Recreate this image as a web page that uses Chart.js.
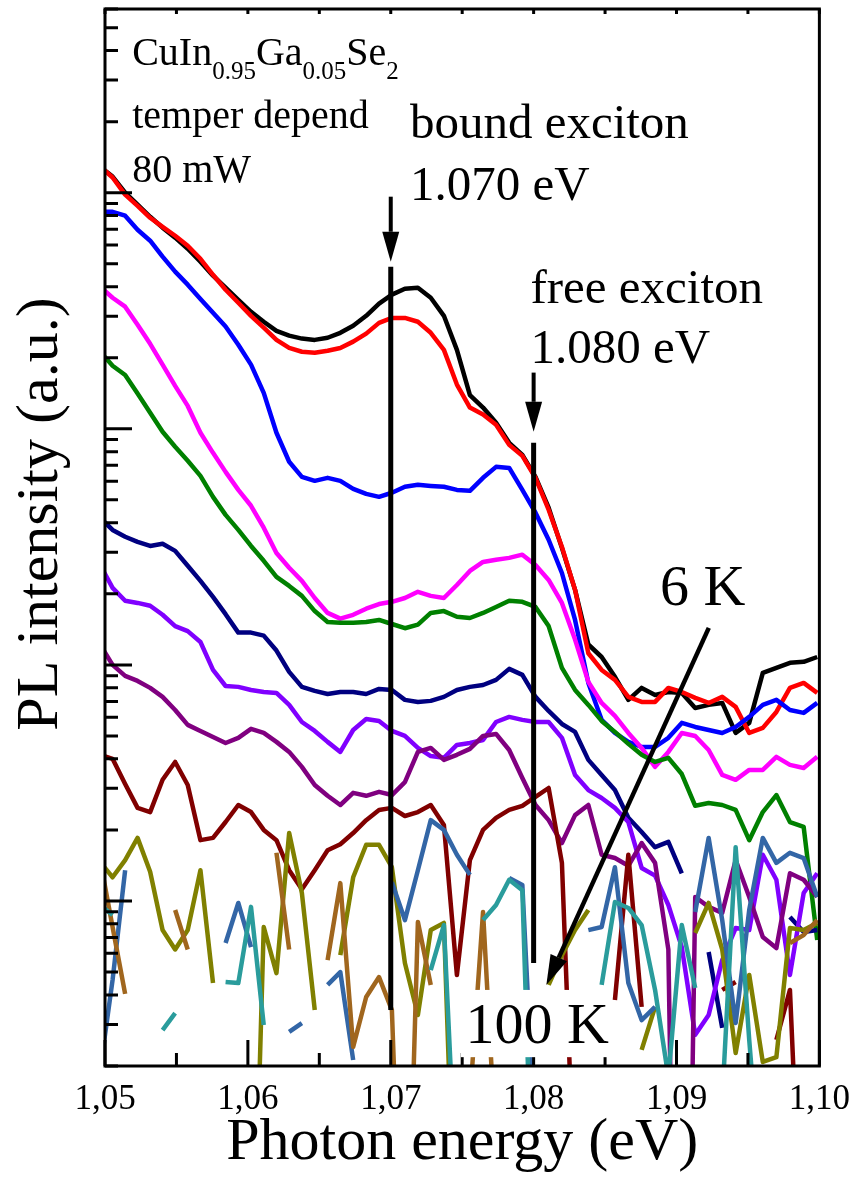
<!DOCTYPE html>
<html>
<head>
<meta charset="utf-8">
<title>PL temperature dependence</title>
<script src="https://cdn.jsdelivr.net/npm/chart.js@4.4.1/dist/chart.umd.min.js"></script>
<style>
  html, body { margin: 0; padding: 0; background: #fff; }
  #wrap { width: 863px; height: 1180px; }
</style>
</head>
<body>
<div id="wrap"><canvas id="plChart"></canvas></div>
<script>
// Photon energy grid (eV), one point per spectrometer step
const energy = [
  1.04966, 1.05053, 1.05141, 1.05228, 1.05316, 1.05403, 1.05491, 1.05579, 1.05668, 1.05756,
  1.05844, 1.05933, 1.06022, 1.06111, 1.06200, 1.06289, 1.06378, 1.06468, 1.06558, 1.06647,
  1.06737, 1.06828, 1.06918, 1.07008, 1.07099, 1.07190, 1.07280, 1.07372, 1.07463, 1.07554,
  1.07646, 1.07737, 1.07829, 1.07921, 1.08013, 1.08105, 1.08198, 1.08290, 1.08383, 1.08476,
  1.08569, 1.08663, 1.08756, 1.08850, 1.08943, 1.09037, 1.09131, 1.09225, 1.09320, 1.09414,
  1.09509, 1.09604, 1.09699, 1.09794, 1.09890, 1.09985
];

// PL spectra, from 6 K (black) up to 100 K (teal); null = no positive signal
const curveBlack = [
  1290, 1170, 1000, 890, 791, 711, 645, 579, 510, 445,
  396, 352, 313, 284, 260, 248, 241, 238, 243, 255,
  273, 301, 339, 370, 392, 396, 359, 301, 216, 139,
  123, 106, 87.2, 77.6, 62.6, 46.3, 31.3, 20.8, 12.2, 10.8,
  8.90, 7.11, 7.99, 7.46, 7.68, 7.61, 6.57, 6.77, 6.90, 5.15,
  5.68, 9.25, 9.71, 10.2, 10.3, 10.8
];
const curveRed = [
  1290, 1160, 981, 880, 783, 717, 657, 596, 525, 449,
  388, 342, 301, 268, 238, 220, 212, 210, 214, 220,
  234, 253, 281, 295, 295, 284, 255, 216, 154, 123,
  115, 104, 85.5, 76.8, 62.0, 45.4, 31.6, 20.8, 11.2, 9.52,
  8.64, 7.32, 6.97, 6.97, 7.99, 7.68, 7.25, 6.90, 7.32, 6.64,
  5.15, 5.41, 6.32, 7.99, 8.39, 7.61
];
const curveBlue = [
  830, 830, 799, 697, 626, 536, 463, 408, 355, 310,
  271, 227, 187, 142, 96.2, 72.5, 62.6, 60.2, 62.0, 60.2,
  55.7, 53.0, 51.5, 53.6, 56.8, 57.9, 57.3, 56.8, 55.1, 54.6,
  62.0, 69.0, 68.3, 55.1, 44.1, 33.9, 24.5, 15.5, 8.39, 5.85,
  5.15, 4.72, 4.49, 4.49, 4.91, 5.68, 5.46, 5.30, 5.15, 5.46,
  6.02, 6.77, 7.11, 6.44, 6.26, 6.90
];
const curveMagenta = [
  400, 359, 329, 276, 229, 187, 152, 125, 96.2, 79.1,
  65.7, 55.1, 47.2, 38.1, 29.8, 25.8, 22.7, 19.2, 16.6, 15.7,
  16.3, 17.3, 18.1, 18.5, 19.2, 20.4, 19.6, 19.2, 21.8, 25.0,
  27.3, 27.9, 28.4, 29.3, 26.5, 22.9, 18.3, 12.8, 8.47, 6.90,
  6.08, 5.15, 4.45, 3.70, 4.28, 5.15, 5.00, 4.36, 3.42, 3.26,
  3.59, 3.59, 4.08, 3.77, 3.66, 4.08
];
const curveGreen = [
  212, 185, 169, 141, 117, 97.1, 83.9, 73.2, 63.2, 51.5,
  43.2, 37.3, 31.9, 27.6, 23.6, 21.6, 19.6, 16.9, 15.2, 15.1,
  15.1, 15.2, 15.5, 14.9, 14.3, 14.8, 16.6, 16.9, 16.0, 15.8,
  16.6, 17.6, 18.7, 18.5, 17.6, 14.6, 9.71, 7.83, 6.77, 5.79,
  5.20, 4.63, 4.16, 3.88, 4.04, 3.45, 2.53, 2.60, 2.55, 2.43,
  1.81, 2.38, 2.81, 2.16, 2.06, 0.683
];
const curveNavy = [
  42.0, 37.3, 34.9, 33.2, 31.9, 32.6, 30.4, 26.3, 22.7, 19.4,
  16.4, 13.7, 13.7, 13.3, 11.5, 9.34, 8.07, 7.76, 7.53, 7.68,
  7.68, 7.53, 7.91, 7.83, 7.11, 6.97, 7.04, 7.32, 7.83, 8.07,
  8.22, 8.64, 9.62, 9.07, 7.32, 6.38, 5.62, 5.20, 3.96, 3.42,
  2.95, 2.25, 1.96, 1.69, 1.78, 1.31, null, 0.608, 0.290, null,
  null, null, null, 0.855, 0.739, 0.753
];
const curveViolet = [
  26.5, 21.2, 18.7, 18.3, 17.8, 16.3, 14.6, 13.9, 12.5, 9.52,
  8.14, 8.07, 7.83, 7.68, 7.61, 6.77, 5.73, 5.25, 4.72, 4.28,
  5.30, 5.90, 5.79, 5.25, 5.00, 4.45, 4.11, 4.04, 4.58, 4.67,
  4.81, 5.73, 6.02, 5.85, 5.73, 5.73, 4.91, 3.42, 2.95, 2.73,
  2.48, 2.16, 1.38, 1.28, 0.962, 0.638, 0.271, 0.329, 0.562, 0.768,
  0.753, 1.57, 1.23, 0.486, 1.08, 1.31
];
const curvePurple = [
  12.2, 10.0, 8.98, 8.55, 7.99, 7.32, 6.44, 5.57, 5.25, 4.95,
  4.67, 4.91, 5.36, 5.15, 4.72, 4.28, 3.70, 3.10, 2.79, 2.55,
  2.87, 2.79, 2.90, 2.81, 3.19, 4.28, 4.45, 3.96, 4.16, 4.41,
  5.00, 5.10, 4.36, 3.32, 2.55, 2.20, 1.76, 2.31, 2.55, 1.57,
  1.52, 1.41, 1.76, 1.45, 0.623, 0.0002, 1.04, 0.944, 0.890, 1.49,
  1.04, 0.704, 0.632, 1.31, 1.23, 1.04
];
const curveMaroon = [
  4.16, 4.00, 3.13, 2.48, 2.38, 3.26, 3.88, 3.10, 1.81, 1.85,
  2.16, 2.55, 2.38, 2.00, 1.81, 1.35, 1.12, 1.35, 1.64, 1.74,
  1.94, 2.20, 2.43, 2.48, 2.29, 2.38, 2.55, 2.10, 0.486, 1.49,
  2.00, 2.25, 2.43, 2.53, 2.76, 3.01, 1.45, 0.05, null, null,
  0.381, 1.57, 0.356, null, null, null, null, null, 0.420, 0.454,
  null, null, 0.258, 0.420, 0.02, null
];
const curveOlive = [
  1.46, 1.26, 1.49, 1.85, 1.33, 0.753, 0.623, 0.753, 1.35, 0.449,
  null, null, 0.01, 0.776, 0.495, 1.94, 1.08, 0.345, null, 0.590,
  1.26, 1.73, 1.73, 1.39, 0.546, 0.329, 0.753, 0.807, 0.02, null,
  null, null, null, null, null, 0.441, 0.590, 0.753, 0.916, null,
  null, null, 0.234, 0.356, null, null, 0.732, 0.981, 0.623, 0.227,
  0.486, 0.208, 0.218, 0.768, 0.753, 0.807
];
const curveSteel = [
  0.192, 0.463, 1.35, null, null, null, null, null, null, null,
  0.664, 0.981, 0.638, null, null, 0.279, 0.304, null, 0.441, 0.500,
  0.212, null, null, 1.20, 0.830, 1.35, 2.20, 2.00, 1.57, 1.29,
  null, null, 1.25, 1.17, 0.088, null, null, null, 0.753, 0.776,
  1.39, 0.449, 0.313, 0.356, null, null, 0.898, 1.85, 0.830, 0.304,
  0.916, 1.85, 1.45, 1.60, 1.52, 1.04
];
const curveOchre = [
  1.49, 0.776, 0.404, null, null, null, 0.916, 0.623, null, null,
  null, null, null, null, 1.60, 0.623, null, null, 0.562, 1.19,
  0.241, 0.392, 0.476, 0.345, 0.01, 0.815, 0.441, null, null, 0.144,
  0.898, 0.088, null, null, null, null, null, null, null, null,
  null, null, null, null, null, null, null, null, null, null,
  null, null, null, 0.664, 0.717, 0.830
];
const curveTeal = [
  0.962, 0.872, null, null, null, 0.284, 0.335, null, null, null,
  0.454, 0.449, 0.944, 0.298, null, null, null, null, null, null,
  null, null, null, null, null, null, 0.510, 0.791, 0.054, null,
  0.830, 0.962, 1.23, 1.11, 0.02, null, null, null, null, 0.441,
  0.990, 0.934, 0.791, 0.420, 0.18, 0.791, 0.428, null, 0.144, 1.69,
  0.258, 0.05, null, null, null, null
];

// axis ticks
const xMajorTicks = [1.05, 1.06, 1.07, 1.08, 1.09, 1.10];
const xMinorTicks = [1.055, 1.065, 1.075, 1.085, 1.095];

// exciton positions (eV) with their marker arrows
const excitonMarks = [
  { energy: 1.070, arrowFrom: 962, arrowTo: 510, lineFrom: 486, lineTo: 0.345 },
  { energy: 1.080, arrowFrom: 173, arrowTo: 97.1, lineFrom: 87.2, lineTo: 0.546 }
];
// temperature arrow: 6 K -> 100 K
const tempArrow = { from: [1.09226, 14.35], to: [1.08089, 0.441] };

const traces = [
  { data: curveBlack, color: '#000000' },
  { data: curveRed, color: '#ff0000' },
  { data: curveBlue, color: '#0000ff' },
  { data: curveMagenta, color: '#ff00ff' },
  { data: curveGreen, color: '#008000' },
  { data: curveNavy, color: '#000080' },
  { data: curveViolet, color: '#8000ff' },
  { data: curvePurple, color: '#800080' },
  { data: curveMaroon, color: '#800000' },
  { data: curveOlive, color: '#808000' },
  { data: curveSteel, color: '#3366a6' },
  { data: curveOchre, color: '#a0661e' },
  { data: curveTeal, color: '#2a9c9c' }
];

const SERIF = '"Liberation Serif", "Times New Roman", serif';
Chart.defaults.font.family = SERIF;
Chart.defaults.color = '#000';

function drawArrow(ctx, x0, y0, x1, y1, headLen, headHalf) {
  const ang = Math.atan2(y1 - y0, x1 - x0);
  const bx = x1 - headLen * Math.cos(ang);
  const by = y1 - headLen * Math.sin(ang);
  ctx.beginPath();
  ctx.moveTo(x0, y0);
  ctx.lineTo(bx, by);
  ctx.stroke();
  ctx.beginPath();
  ctx.moveTo(x1, y1);
  ctx.lineTo(bx + headHalf * Math.sin(ang), by - headHalf * Math.cos(ang));
  ctx.lineTo(bx - headHalf * Math.sin(ang), by + headHalf * Math.cos(ang));
  ctx.closePath();
  ctx.fill();
}

function drawLabel(ctx, text, px, py, size) {
  ctx.font = size + 'px ' + SERIF;
  ctx.fillText(text, px, py);
}

const plotDecor = {
  id: 'plotDecor',
  afterDatasetsDraw(chart) {
    const { ctx, chartArea: a, scales: { x, y } } = chart;
    ctx.save();
    ctx.fillStyle = '#000';
    ctx.strokeStyle = '#000';

    // exciton marker lines and arrows
    excitonMarks.forEach(m => {
      const px = x.getPixelForValue(m.energy);
      ctx.lineWidth = 5;
      ctx.beginPath();
      ctx.moveTo(px, y.getPixelForValue(m.lineFrom));
      ctx.lineTo(px, y.getPixelForValue(m.lineTo));
      ctx.stroke();
      ctx.lineWidth = 4;
      drawArrow(ctx, px, y.getPixelForValue(m.arrowFrom), px, y.getPixelForValue(m.arrowTo), 30, 8.5);
    });

    // temperature arrow
    ctx.lineWidth = 4.5;
    drawArrow(ctx,
      x.getPixelForValue(tempArrow.from[0]), y.getPixelForValue(tempArrow.from[1]),
      x.getPixelForValue(tempArrow.to[0]), y.getPixelForValue(tempArrow.to[1]), 30, 9);

    // inward ticks
    ctx.lineWidth = 3;
    ctx.beginPath();
    xMajorTicks.concat(xMinorTicks).forEach(v => {
      const px = x.getPixelForValue(v);
      const len = xMajorTicks.includes(v) ? 26 : 13;
      ctx.moveTo(px, a.bottom);
      ctx.lineTo(px, a.bottom - len);
      ctx.moveTo(px, a.top);
      ctx.lineTo(px, a.top + 5);
    });
    for (let dec = 0.1; dec <= 1000; dec *= 10) {
      for (let k = 1; k <= 9; k++) {
        const v = dec * k;
        if (v < y.min || v > y.max) continue;
        const py = y.getPixelForValue(v);
        const len = k === 1 ? 27 : 13;
        ctx.moveTo(a.left, py);
        ctx.lineTo(a.left + len, py);
      }
    }
    ctx.stroke();

    // labels
    ctx.textAlign = 'left';
    ctx.textBaseline = 'alphabetic';
    const lx = v => x.getPixelForValue(v);
    const ly = v => y.getPixelForValue(v);

    // sample formula with subscripts
    let fx = lx(1.0519);
    const fy = ly(3480);
    [['CuIn', 0], ['0.95', 1], ['Ga', 0], ['0.05', 1], ['Se', 0], ['2', 1]].forEach(([t, sub]) => {
      ctx.font = (sub ? 25 : 40) + 'px ' + SERIF;
      ctx.fillText(t, fx, sub ? fy + 14 : fy);
      fx += ctx.measureText(t).width;
    });
    drawLabel(ctx, 'temper depend', lx(1.0519), ly(1884), 40);
    drawLabel(ctx, '80 mW', lx(1.0519), ly(1113), 40);
    drawLabel(ctx, 'bound exciton', lx(1.07134), ly(1710), 49);
    drawLabel(ctx, '1.070 eV', lx(1.07134), ly(934), 49);
    drawLabel(ctx, 'free exciton', lx(1.07978), ly(342), 49);
    drawLabel(ctx, '1.080 eV', lx(1.07978), ly(190), 49);
    drawLabel(ctx, '6 K', lx(1.08884), ly(17.9), 58);

    // 100 K label sits on a white patch
    ctx.fillStyle = '#fff';
    ctx.fillRect(lx(1.0749), ly(0.42), lx(1.08536) - lx(1.0749), ly(0.218) - ly(0.42));
    ctx.fillStyle = '#000';
    drawLabel(ctx, '100 K', lx(1.07524), ly(0.25), 58);

    // y axis title
    ctx.save();
    ctx.translate(a.left - 48, a.top + 505);
    ctx.rotate(-Math.PI / 2);
    ctx.textAlign = 'center';
    drawLabel(ctx, 'PL intensity (a.u.)', 0, 0, 60);
    ctx.restore();

    // frame
    ctx.lineWidth = 3;
    ctx.strokeRect(a.left, a.top, a.right - a.left, a.bottom - a.top);
    ctx.restore();
  }
};

new Chart(document.getElementById('plChart'), {
  type: 'line',
  data: {
    datasets: traces.map((t, i) => ({
      data: energy.map((e, k) => ({ x: e, y: t.data[k] })),
      borderColor: t.color,
      borderWidth: 4.5,
      borderJoinStyle: 'round',
      pointRadius: 0,
      tension: 0,
      fill: false,
      spanGaps: false,
      clip: 0,
      order: traces.length - i
    }))
  },
  options: {
    responsive: true,
    maintainAspectRatio: false,
    animation: false,
    events: [],
    layout: { padding: { top: 9, right: 42, left: 0, bottom: 0 } },
    plugins: {
      legend: { display: false },
      tooltip: { enabled: false }
    },
    scales: {
      x: {
        type: 'linear',
        min: 1.05,
        max: 1.10,
        grid: { display: false, drawTicks: false },
        border: { display: false },
        afterBuildTicks: s => { s.ticks = xMajorTicks.map(v => ({ value: v })); },
        afterFit: s => { s.height = 114; },
        ticks: {
          padding: 13,
          maxRotation: 0,
          autoSkip: false,
          font: { size: 35 },
          callback: v => v.toFixed(2).replace('.', ',')
        },
        title: {
          display: true,
          text: 'Photon energy (eV)',
          font: { size: 60 },
          padding: { top: 0, bottom: 1 }
        }
      },
      y: {
        type: 'logarithmic',
        min: 0.2,
        max: 6000,
        grid: { display: false, drawTicks: false },
        border: { display: false },
        ticks: { display: false },
        afterFit: s => { s.width = 105; }
      }
    }
  },
  plugins: [plotDecor]
});
</script>
</body>
</html>
